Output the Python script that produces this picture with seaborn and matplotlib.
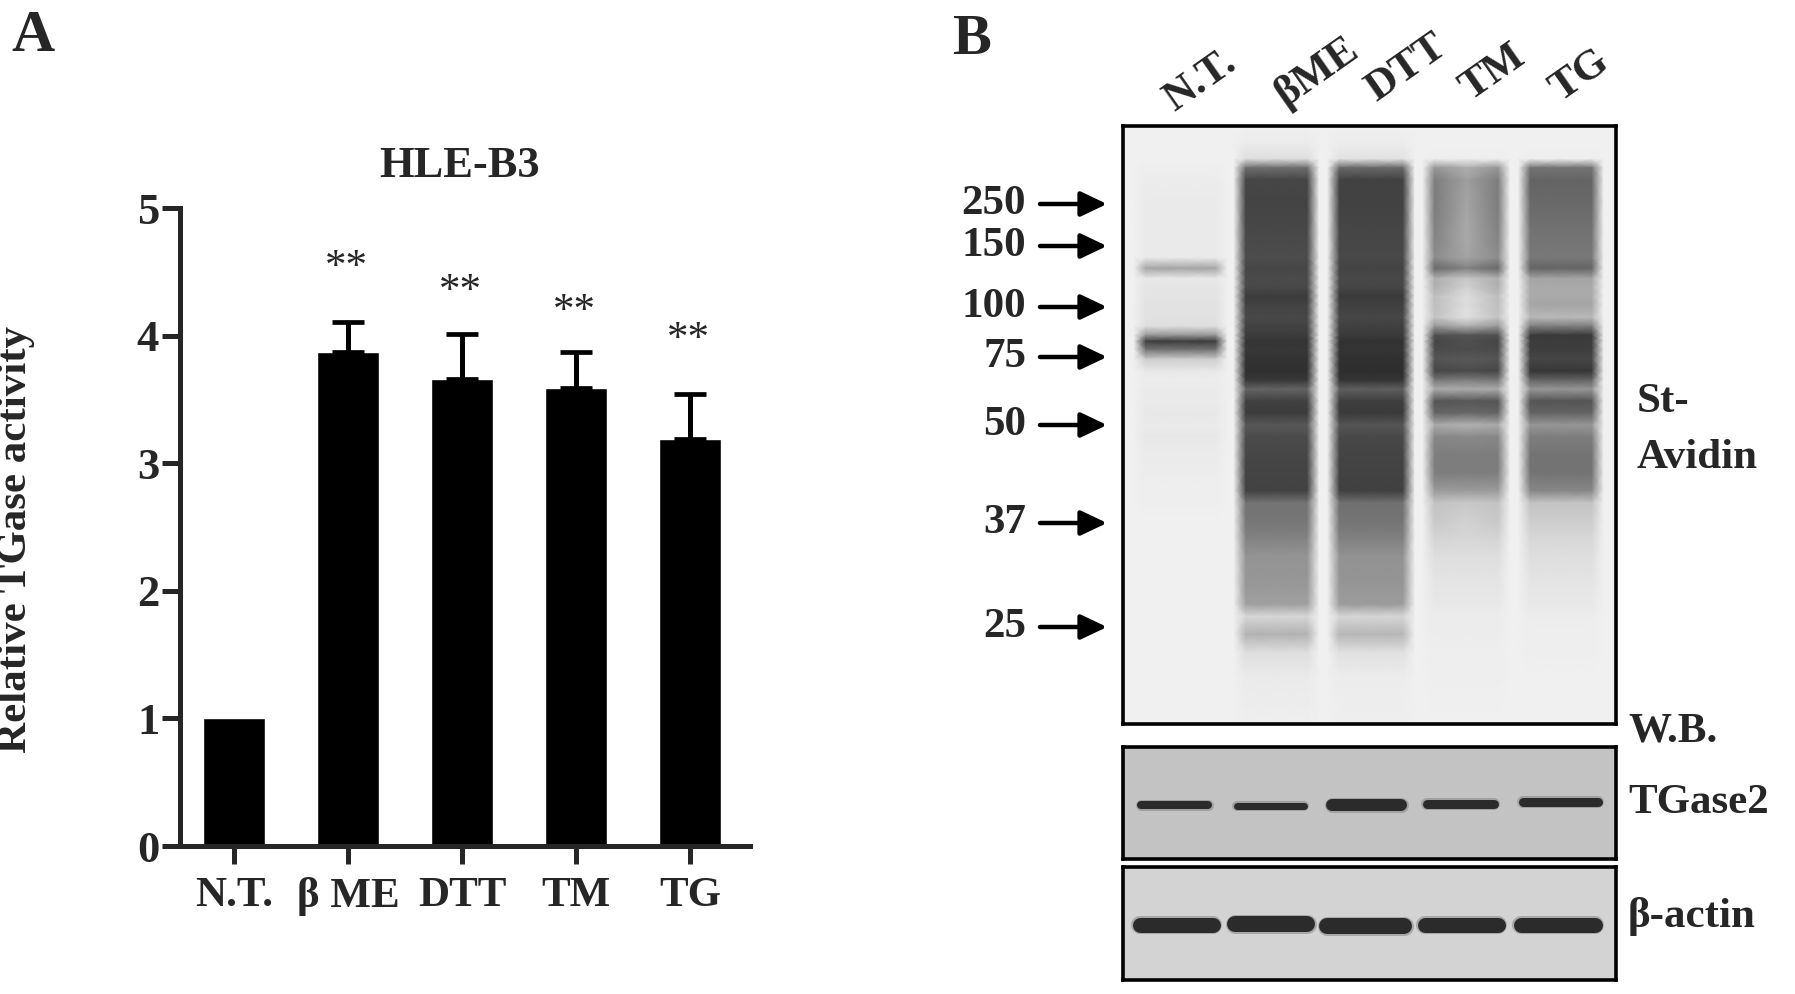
import numpy as np
import pandas as pd
import seaborn as sns
import matplotlib.pyplot as plt

# panel A
treatments = ["N.T.", "β ME", "DTT", "TM", "TG"]
activity = [1.0, 3.87, 3.66, 3.59, 3.19]
activity_err = [0.0, 0.24, 0.35, 0.28, 0.35]
star_levels = [4.53, 4.34, 4.19, 3.97]
y_ticks = [0, 1, 2, 3, 4, 5]

# panel B, marker sizes
mw_labels = ["250", "150", "100", "75", "50", "37", "25"]
mw_rows = [204, 246, 307, 357, 425, 523, 627]
lane_labels = ["N.T.", "βME", "DTT", "TM", "TG"]

# gel rows, percent down the membrane, and grey level of each lane at that row
gel_rows = [0, 3, 5.5, 7, 9, 13, 18, 22, 23.8, 25.5, 27, 28.5, 30, 32, 33.5, 35, 36, 37.5, 39, 41,
            42.5, 44, 46, 48, 50, 52, 55, 58, 61, 63, 66, 69, 72, 76, 80, 82, 85, 88, 92, 100]
gel_background = [240] * 40
lane_nt = [240, 240, 240, 238, 236, 234, 234, 234, 165, 232, 228, 228, 226, 226, 222, 150, 62, 120, 205, 232,
           236, 234, 234, 232, 234, 232, 235, 236, 238, 238, 240, 240, 240, 240, 240, 240, 240, 240, 240, 240]
lane_bme = [240, 235, 222, 110, 70, 68, 72, 76, 70, 74, 72, 60, 66, 72, 66, 60, 52, 55, 50, 48,
            55, 100, 65, 60, 88, 75, 70, 68, 66, 115, 118, 130, 148, 150, 160, 215, 178, 222, 234, 238]
lane_dtt = [240, 236, 226, 105, 66, 66, 70, 72, 68, 72, 70, 58, 64, 70, 64, 58, 50, 52, 48, 46,
            52, 95, 62, 58, 85, 72, 68, 66, 64, 112, 116, 128, 146, 148, 156, 214, 182, 224, 236, 238]
lane_tm = [240, 240, 238, 150, 125, 125, 130, 140, 105, 175, 175, 190, 190, 195, 150, 80, 70, 75, 85, 70,
           120, 170, 85, 100, 170, 135, 125, 125, 155, 195, 200, 212, 222, 228, 232, 236, 236, 238, 238, 240]
lane_tg = [240, 240, 238, 115, 100, 105, 115, 120, 100, 165, 170, 170, 165, 185, 125, 58, 60, 62, 70, 55,
           100, 150, 85, 100, 150, 125, 115, 115, 135, 195, 205, 215, 222, 228, 232, 236, 238, 238, 240, 240]
lane_tm_center = [240, 240, 238, 175, 160, 165, 170, 165, 130, 200, 210, 222, 222, 225, 175, 85, 80, 78, 90, 75,
                  125, 172, 88, 104, 178, 138, 125, 125, 155, 200, 210, 215, 222, 228, 232, 236, 236, 238, 238, 240]
lane_edges = [(0.034, 0.20), (0.237, 0.386), (0.427, 0.58), (0.62, 0.773), (0.814, 0.963)]

# loading controls, band ends as fraction of the strip width
tgase_left = [0.025, 0.22, 0.412, 0.605, 0.8]
tgase_right = [0.185, 0.38, 0.575, 0.765, 0.975]
tgase_height = [0.52, 0.53, 0.52, 0.51, 0.49]
tgase_thick = [8, 7, 12, 9, 9]
actin_left = [0.022, 0.215, 0.402, 0.6, 0.795]
actin_right = [0.195, 0.385, 0.582, 0.773, 0.97]
actin_height = [0.51, 0.50, 0.52, 0.51, 0.51]
actin_thick = [15, 16, 16, 15, 15]

W, H = 1795, 994
SERIF = ["Liberation Serif", "DejaVu Serif"]

sns.set_style("ticks")
plt.rcParams["font.family"] = SERIF
plt.rcParams["font.weight"] = "bold"


def px_axes(fig, x0, y0, x1, y1):
    return fig.add_axes([x0 / W, 1 - y1 / H, (x1 - x0) / W, (y1 - y0) / H])


def draw_gel(ax):
    columns = [gel_background]
    xs = [0.0]
    lanes = [lane_nt, lane_bme, lane_dtt, lane_tm, lane_tg]
    for i, (lane, (l, r)) in enumerate(zip(lanes, lane_edges)):
        center = lane_tm_center if i == 3 else lane
        xs += [l - 0.012, l + 0.012, (l + r) / 2, r - 0.012, r + 0.012]
        columns += [gel_background, lane, center, lane, gel_background]
    xs.append(1.0)
    columns.append(gel_background)
    grey = np.array(columns, dtype=float).T
    X, Y = np.meshgrid(xs, gel_rows)
    ax.pcolormesh(X, Y, grey, shading="gouraud", cmap="gray", vmin=0, vmax=255, rasterized=True)
    ax.set_xlim(0, 1)
    ax.set_ylim(100, 0)


def draw_strip(ax, bg, left, right, height, thick):
    ax.set_facecolor(bg)
    for l, r, h, t in zip(left, right, height, thick):
        ax.plot([l + 0.012, r - 0.012], [h, h], color="#8a8a8a", lw=(t + 3) * 0.72, solid_capstyle="round", alpha=0.6)
        ax.plot([l + 0.012, r - 0.012], [h, h], color="#2b2b2b", lw=t * 0.72, solid_capstyle="round")
    ax.set_xlim(0, 1)
    ax.set_ylim(1, 0)


def frame(ax):
    ax.set_xticks([])
    ax.set_yticks([])
    for s in ax.spines.values():
        s.set_linewidth(2.6)
        s.set_color("black")


fig = plt.figure(figsize=(W / 100, H / 100), dpi=100)

# A: bars
ax = px_axes(fig, 180, 208, 750, 846)
df = pd.DataFrame({"treatment": treatments, "activity": activity})
sns.barplot(data=df, x="treatment", y="activity", color="black", saturation=1, width=0.54, errorbar=None, ax=ax)
pos = np.arange(len(treatments))
ax.errorbar(pos[1:], activity[1:], yerr=[np.zeros(4), activity_err[1:]], fmt="none", ecolor="black",
            elinewidth=3.6, capsize=11.5, capthick=3.4)
for x, y in zip(pos[1:], star_levels):
    ax.text(x - 0.01, y, "**", ha="center", va="center", fontsize=31, fontweight="normal")
ax.set_xlim(-0.474, 4.526)
ax.set_ylim(0, 5)
ax.set_yticks(y_ticks)
ax.set_xticks(pos)
ax.set_xticklabels(treatments, fontsize=31)
ax.tick_params(axis="y", labelsize=32, length=13, width=3.6, pad=2)
ax.tick_params(axis="x", length=13, width=3.6, pad=9)
ax.set_xlabel("")
ax.set_ylabel("Relative TGase activity", fontsize=31, fontweight="bold")
ax.yaxis.set_label_coords(-0.255, 0.48)
ax.set_title("HLE-B3", fontsize=32, fontweight="bold", pad=22, x=0.49)
sns.despine(ax=ax)
for s in ("left", "bottom"):
    ax.spines[s].set_linewidth(3.6)

# B: blots
gel = px_axes(fig, 1123, 126, 1616, 724)
draw_gel(gel)
frame(gel)
strip1 = px_axes(fig, 1123, 747, 1616, 859)
draw_strip(strip1, "#c3c3c3", tgase_left, tgase_right, tgase_height, tgase_thick)
frame(strip1)
strip2 = px_axes(fig, 1123, 867, 1616, 980)
draw_strip(strip2, "#d3d3d3", actin_left, actin_right, actin_height, actin_thick)
frame(strip2)

# text and arrows on a pixel overlay
over = fig.add_axes([0, 0, 1, 1], facecolor="none")
over.set_xlim(0, W)
over.set_ylim(H, 0)
over.axis("off")
over.text(11, 37, "A", fontsize=43, ha="left", va="center")
over.text(952, 40, "B", fontsize=42, ha="left", va="center")
for lab, y in zip(mw_labels, mw_rows):
    over.text(1026, y, lab, fontsize=31, ha="right", va="center")
    over.annotate("", xy=(1107, y), xytext=(1040, y),
                  arrowprops=dict(arrowstyle="-|>,head_length=0.8,head_width=0.38", lw=3.2, color="black",
                                  shrinkA=0, shrinkB=0, mutation_scale=20))
lane_x = [1200, 1317, 1407, 1493, 1580]
lane_y = [81, 72, 68, 73, 76]
for lab, x, y in zip(lane_labels, lane_x, lane_y):
    over.text(x, y, lab, fontsize=31, rotation=35, ha="center", va="center", rotation_mode="anchor")
over.text(1637, 402, "St-", fontsize=31, ha="left", va="center")
over.text(1637, 458, "Avidin", fontsize=31, ha="left", va="center")
over.text(1628, 731, "W.B.", fontsize=31, ha="left", va="center")
over.text(1628, 803, "TGase2", fontsize=31, ha="left", va="center")
over.text(1628, 917, "β-actin", fontsize=31, ha="left", va="center")

fig.savefig("out.png", dpi=100)
plt.close(fig)
